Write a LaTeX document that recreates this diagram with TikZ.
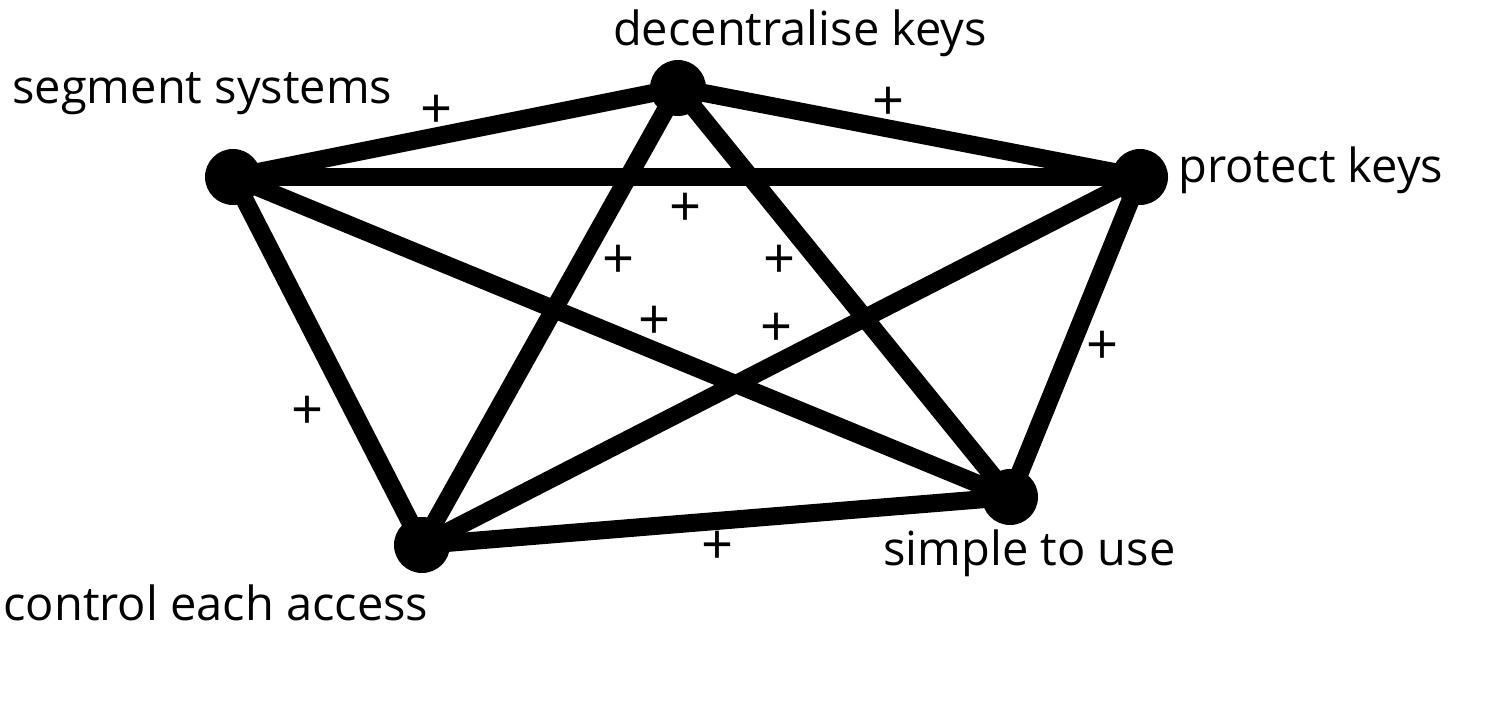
\documentclass[tikz,border=0pt]{standalone}
\usepackage{fontspec}
\setmainfont{Open Sans}
\begin{document}
\begin{tikzpicture}[x=0.5pt,y=-0.5pt,
  vert/.style={circle,fill=black,inner sep=0pt,minimum size=28pt},
  edge/.style={line width=9pt},
  lbl/.style={font=\fontsize{23.5}{26}\selectfont,inner sep=0pt},
  plus/.style={font=\fontsize{28}{30}\selectfont\addfontfeature{Weight=300},inner sep=0pt}]
\useasboundingbox (0,0) rectangle (1488,706);
\coordinate (s) at (233,177);
\coordinate (d) at (678,88);
\coordinate (p) at (1140,177);
\coordinate (u) at (1010,497);
\coordinate (c) at (422,545);
\foreach \a/\b in {s/d,s/p,s/u,s/c,d/p,d/u,d/c,p/u,p/c,c/u}
  \draw[edge] (\a) -- (\b);
\node[vert] (ns) at (s) {};
\node[vert] (nd) at (d) {};
\node[vert] (np) at (p) {};
\node[vert] (nu) at (u) {};
\node[vert] (nc) at (c) {};
\node[lbl,anchor=base] (ld) at (800,46) {decentralise keys};
\node[lbl,anchor=base west] (ls) at (12,104) {segment systems};
\node[lbl,anchor=base west] (lp) at (1178,182) {protect keys};
\node[lbl,anchor=base west] (lu) at (883,565) {simple to use};
\node[lbl,anchor=base west] (lc) at (3,620) {control each access};
\node[plus] (p1) at (437,112) {+};
\node[plus] (p2) at (888,104) {+};
\node[plus] (p3) at (686,210) {+};
\node[plus] (p4) at (619,262) {+};
\node[plus] (p5) at (779,262) {+};
\node[plus] (p6) at (655,323) {+};
\node[plus] (p7) at (777,330) {+};
\node[plus] (p8) at (308,413) {+};
\node[plus] (p9) at (1102,348) {+};
\node[plus] (p10) at (718,548) {+};
\end{tikzpicture}
\end{document}
